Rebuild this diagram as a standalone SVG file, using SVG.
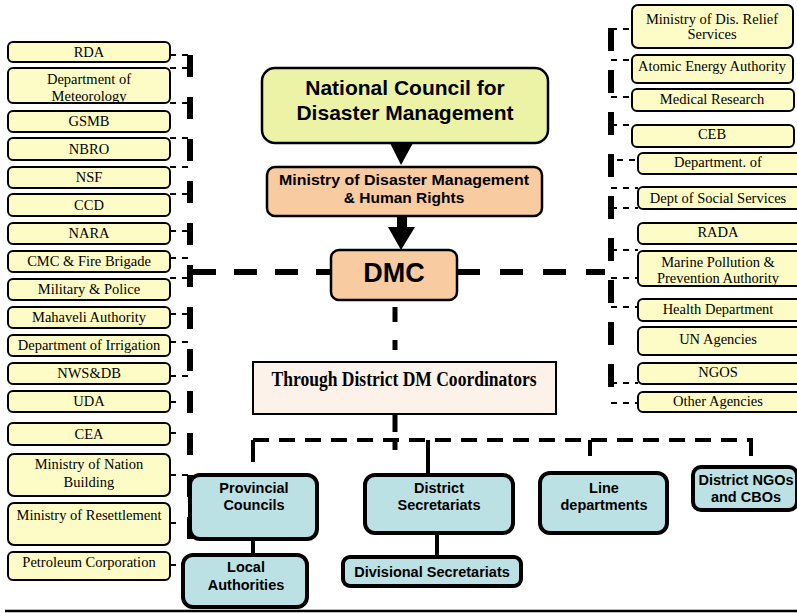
<svg xmlns="http://www.w3.org/2000/svg" width="797" height="613" viewBox="0 0 797 613">
<style>
.yb{fill:#FEFCC6;stroke:#000;stroke-width:2}
.yt{font-family:"Liberation Serif",serif;font-size:14.5px;fill:#000;text-anchor:middle}
.pb{fill:#F8CBA0;stroke:#000;stroke-width:2.5}
.tb{fill:#BBE1E4;stroke:#000;stroke-width:4}
.bt{font-family:"Liberation Sans",Arial,sans-serif;font-weight:bold;fill:#000;text-anchor:middle}
.thin{stroke:#000;stroke-width:2;stroke-dasharray:6 6;fill:none}
.thick{stroke:#000;stroke-width:6;fill:none}
.mid{stroke:#000;stroke-width:4;fill:none}
</style>
<rect width="797" height="613" fill="#fff"/>

<g id="connectors">
  <!-- left bus -->
  <line class="thick" x1="190" y1="55" x2="190" y2="540" stroke-dasharray="22 20"/>
  <path class="thin" d="M170 55H192 M170 68H190 M170 103H190 M170 138H190 M170 167H190 M170 194H190 M170 231H190 M170 258H190 M170 278H190 M170 314H190 M170 342H190 M170 376H190 M170 402H178 M170 433H178 M170 475H190 M170 523H178 M170 565H178"/>
  <!-- right bus -->
  <line class="thick" x1="611" y1="28" x2="611" y2="387" stroke-dasharray="23 19"/>
  <path class="thin" d="M611 29H632 M611 60H632 M611 97H632 M611 125H632 M617 160H638 M611 188H638 M611 208H638 M611 250H638 M611 278H638 M611 307H638 M611 383H638 M611 403H638"/>
  <!-- DMC horizontals -->
  <line class="thick" x1="193" y1="272" x2="331" y2="272" stroke-dasharray="23 18"/>
  <line class="thick" x1="457" y1="272" x2="605" y2="272" stroke-dasharray="23 20"/>
  <!-- arrows -->
  <polygon points="390,143 413,143 401,165" fill="#000"/>
  <rect x="397" y="216" width="10" height="14" fill="#000"/>
  <polygon points="388,227 415,227 401,250" fill="#000"/>
  <!-- DMC down -->
  <line x1="395" y1="300" x2="395" y2="362" stroke="#000" stroke-width="5" stroke-dasharray="0 7 15 18 10 40"/>
  <line x1="395" y1="414" x2="395" y2="432" stroke="#000" stroke-width="5"/>
  <line x1="395" y1="442" x2="395" y2="450" stroke="#000" stroke-width="5"/>
  <!-- district distribution -->
  <line class="mid" x1="253" y1="440" x2="753" y2="440" stroke-dasharray="16 10"/>
  <line class="mid" x1="253" y1="440" x2="253" y2="462"/>
  <line class="mid" x1="428" y1="440" x2="428" y2="473"/>
  <line class="mid" x1="590" y1="440" x2="590" y2="456"/>
  <line class="mid" x1="751" y1="440" x2="751" y2="456"/>
  <line class="mid" x1="253" y1="539" x2="253" y2="555"/>
  <line class="mid" x1="437" y1="533" x2="437" y2="557"/>
  <!-- bottom rule -->
  <line x1="5" y1="611" x2="797" y2="611" stroke="#000" stroke-width="2.5"/>
</g>

<!-- left column -->
<g id="rda"><rect class="yb" x="8" y="42" width="162" height="20" rx="5"/><text class="yt" x="89" y="57">RDA</text></g>
<g id="meteorology"><rect class="yb" x="8" y="68" width="162" height="35" rx="5"/><text class="yt" x="89" y="84">Department of</text><text class="yt" x="89" y="101">Meteorology</text></g>
<g id="gsmb"><rect class="yb" x="8" y="111" width="162" height="21" rx="5"/><text class="yt" x="89" y="126">GSMB</text></g>
<g id="nbro"><rect class="yb" x="8" y="138" width="162" height="22" rx="5"/><text class="yt" x="89" y="154">NBRO</text></g>
<g id="nsf"><rect class="yb" x="8" y="167" width="162" height="21" rx="5"/><text class="yt" x="89" y="182">NSF</text></g>
<g id="ccd"><rect class="yb" x="8" y="194" width="162" height="22" rx="5"/><text class="yt" x="89" y="210">CCD</text></g>
<g id="nara"><rect class="yb" x="8" y="223" width="162" height="21" rx="5"/><text class="yt" x="89" y="238">NARA</text></g>
<g id="cmc"><rect class="yb" x="8" y="251" width="162" height="21" rx="5"/><text class="yt" x="89" y="266">CMC &amp; Fire Brigade</text></g>
<g id="military"><rect class="yb" x="8" y="279" width="162" height="21" rx="5"/><text class="yt" x="89" y="294">Military &amp; Police</text></g>
<g id="mahaveli"><rect class="yb" x="8" y="307" width="162" height="21" rx="5"/><text class="yt" x="89" y="322">Mahaveli Authority</text></g>
<g id="irrigation"><rect class="yb" x="8" y="335" width="162" height="21" rx="5"/><text class="yt" x="89" y="350">Department of Irrigation</text></g>
<g id="nwsdb"><rect class="yb" x="8" y="363" width="162" height="21" rx="5"/><text class="yt" x="89" y="378">NWS&amp;DB</text></g>
<g id="uda"><rect class="yb" x="8" y="391" width="162" height="21" rx="5"/><text class="yt" x="89" y="406">UDA</text></g>
<g id="cea"><rect class="yb" x="8" y="423" width="162" height="22" rx="5"/><text class="yt" x="89" y="439">CEA</text></g>
<g id="nation-building"><rect class="yb" x="8" y="454" width="162" height="42" rx="6"/><text class="yt" x="89" y="469">Ministry of Nation</text><text class="yt" x="89" y="487">Building</text></g>
<g id="resettlement"><rect class="yb" x="8" y="503" width="162" height="42" rx="6"/><text class="yt" x="89" y="520">Ministry of Resettlement</text></g>
<g id="petroleum"><rect class="yb" x="8" y="552" width="162" height="28" rx="5"/><text class="yt" x="89" y="567">Petroleum Corporation</text></g>

<!-- right column -->
<g id="dis-relief"><rect class="yb" x="632" y="5" width="161" height="43" rx="6"/><text class="yt" x="712" y="24">Ministry of Dis. Relief</text><text class="yt" x="712" y="39">Services</text></g>
<g id="atomic"><rect class="yb" x="632" y="55" width="161" height="28" rx="5"/><text class="yt" x="712" y="71">Atomic Energy Authority</text></g>
<g id="medical"><rect class="yb" x="632" y="89" width="162" height="22" rx="5"/><text class="yt" x="712" y="104">Medical Research</text></g>
<g id="ceb"><rect class="yb" x="632" y="125" width="162" height="22" rx="5"/><text class="yt" x="712" y="139">CEB</text></g>
<g id="department-of"><rect class="yb" x="638" y="153" width="165" height="21" rx="5"/><text class="yt" x="718" y="167">Department. of</text></g>
<g id="social-services"><rect class="yb" x="638" y="187" width="165" height="22" rx="5"/><text class="yt" x="718" y="203">Dept of Social Services</text></g>
<g id="rada"><rect class="yb" x="638" y="223" width="165" height="21" rx="5"/><text class="yt" x="718" y="237">RADA</text></g>
<g id="marine"><rect class="yb" x="638" y="251" width="165" height="35" rx="5"/><text class="yt" x="718" y="267">Marine Pollution &amp;</text><text class="yt" x="718" y="283">Prevention Authority</text></g>
<g id="health"><rect class="yb" x="638" y="299" width="165" height="22" rx="5"/><text class="yt" x="718" y="314">Health Department</text></g>
<g id="un"><rect class="yb" x="638" y="327" width="165" height="28" rx="5"/><text class="yt" x="718" y="344">UN Agencies</text></g>
<g id="ngos"><rect class="yb" x="638" y="363" width="165" height="21" rx="5"/><text class="yt" x="718" y="377">NGOS</text></g>
<g id="other"><rect class="yb" x="638" y="392" width="165" height="20" rx="5"/><text class="yt" x="718" y="406">Other Agencies</text></g>

<!-- centre -->
<g id="national-council"><rect x="262" y="68" width="286" height="75" rx="13" fill="#ECF3A6" stroke="#000" stroke-width="2.5"/><text class="bt" x="405" y="95" font-size="21">National Council for</text><text class="bt" x="405" y="120" font-size="21">Disaster Management</text></g>
<g id="ministry"><rect class="pb" x="267" y="167" width="275" height="49" rx="8"/><text class="bt" x="404" y="185" font-size="15.5" textLength="250" lengthAdjust="spacingAndGlyphs">Ministry of Disaster Management</text><text class="bt" x="404" y="203" font-size="15.5">&amp; Human Rights</text></g>
<g id="dmc"><rect class="pb" x="331" y="250" width="126" height="50" rx="8"/><text class="bt" x="394" y="282" font-size="27">DMC</text></g>
<g id="coordinators"><rect x="253" y="362" width="303" height="52" fill="#FDF2EA" stroke="#000" stroke-width="2"/><text x="404" y="386" font-family="'Liberation Serif',serif" font-weight="bold" font-size="20" text-anchor="middle" textLength="265" lengthAdjust="spacingAndGlyphs">Through District DM Coordinators</text></g>

<!-- bottom -->
<g id="provincial"><rect class="tb" x="190" y="475" width="127" height="64" rx="10"/><text class="bt" x="254" y="493" font-size="14.5">Provincial</text><text class="bt" x="254" y="510" font-size="14.5">Councils</text></g>
<g id="local"><rect class="tb" x="183" y="555" width="124" height="52" rx="10"/><text class="bt" x="246" y="572" font-size="14.5">Local</text><text class="bt" x="246" y="590" font-size="14.5">Authorities</text></g>
<g id="district-sec"><rect class="tb" x="365" y="475" width="148" height="58" rx="10"/><text class="bt" x="439" y="493" font-size="14.5">District</text><text class="bt" x="439" y="510" font-size="14.5">Secretariats</text></g>
<g id="divisional"><rect class="tb" x="343" y="557" width="178" height="29" rx="7"/><text class="bt" x="432" y="577" font-size="14.5">Divisional Secretariats</text></g>
<g id="line-dep"><rect class="tb" x="540" y="473" width="127" height="60" rx="10"/><text class="bt" x="604" y="493" font-size="14.5">Line</text><text class="bt" x="604" y="510" font-size="14.5">departments</text></g>
<g id="district-ngos"><rect class="tb" x="693" y="467" width="104" height="43" rx="8"/><text class="bt" x="746" y="485" font-size="14.5">District NGOs</text><text class="bt" x="746" y="502" font-size="14.5">and CBOs</text></g>
</svg>
